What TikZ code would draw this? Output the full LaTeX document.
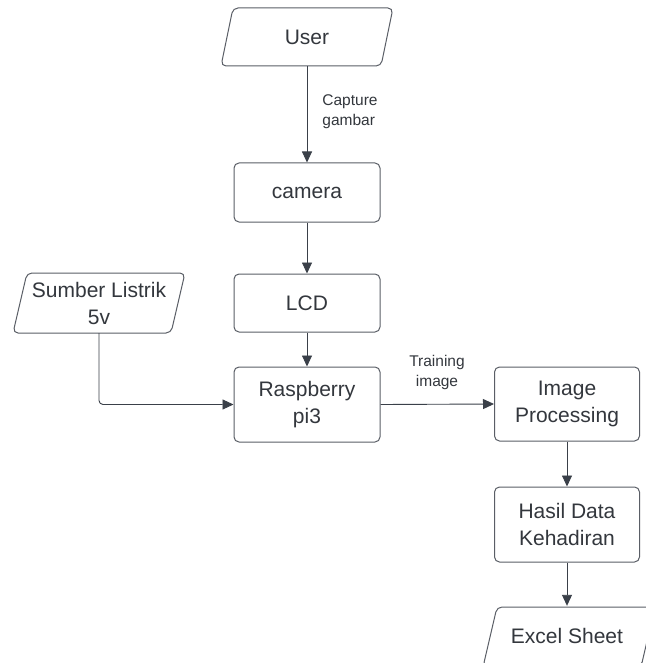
\documentclass[tikz,border=0pt]{standalone}
\usepackage{fontspec}
\setmainfont{Liberation Sans}
\usetikzlibrary{arrows.meta}
\definecolor{ln}{HTML}{3A4049}
\definecolor{bx}{HTML}{5A5E66}
\definecolor{tx}{HTML}{33373D}
\tikzset{
  box/.style={draw=bx, line width=1pt, rounded corners=5pt, fill=white, text=tx,
    font=\fontsize{21}{27}\selectfont, align=center, inner sep=0pt},
  anchorbox/.style={draw=none, inner sep=0pt, text=tx, font=\fontsize{21}{27}\selectfont, align=center},
  para/.style={draw=bx, line width=1pt, rounded corners=5pt},
  conn/.style={draw=ln, line width=0.9pt, -{Triangle[length=11pt,width=10pt]}},
  lbl/.style={text=tx, font=\fontsize{15.5}{20}\selectfont, inner sep=0pt}
}
\begin{document}
\begin{tikzpicture}[x=1pt,y=-1pt]
\useasboundingbox[fill=white] (0,0) rectangle (645,663);
% parallelograms
\draw[para] (233,8) -- (393,8) -- (381,66) -- (221,66) -- cycle;
\node[anchorbox, minimum width=172pt, minimum height=58pt] (user) at (307,37) {User};
\draw[para] (27,273) -- (185,273) -- (171,333) -- (13,333) -- cycle;
\node[anchorbox, minimum width=172pt, minimum height=60pt] (src) at (99,303) {Sumber Listrik\\5v};
\draw[para] (497,607) -- (655,607) -- (641,667) -- (483,667) -- cycle;
\node[anchorbox, minimum width=172pt, minimum height=60pt] (xls) at (567,636) {Excel Sheet};
% boxes
\node[box, minimum width=146pt, minimum height=59pt] (cam) at (307,192.5) {camera};
\node[box, minimum width=146pt, minimum height=58pt] (lcd) at (307,303) {LCD};
\node[box, minimum width=146pt, minimum height=75pt] (rpi) at (307,404.5) {Raspberry\\pi3};
\node[box, minimum width=145pt, minimum height=74pt] (img) at (567,404) {Image\\Processing};
\node[box, minimum width=145pt, minimum height=75pt] (hsl) at (567,524.5) {Hasil Data\\Kehadiran};
% connectors
\draw[conn] (user.south) -- (cam.north);
\draw[conn] (cam.south) -- (lcd.north);
\draw[conn] (lcd.south) -- (rpi.north);
\draw[conn, rounded corners=4pt] (src.south) |- (rpi.west);
\draw[conn] (rpi.east) -- (img.west);
\draw[conn] (img.south) -- (hsl.north);
\draw[conn] (hsl.south) -- (xls.north);
% labels
\node[lbl, align=left] (lcap) at (350,112) {Capture\\gambar};
\node[lbl, align=center] (ltr) at (437,372) {Training\\image};
\end{tikzpicture}
\end{document}
